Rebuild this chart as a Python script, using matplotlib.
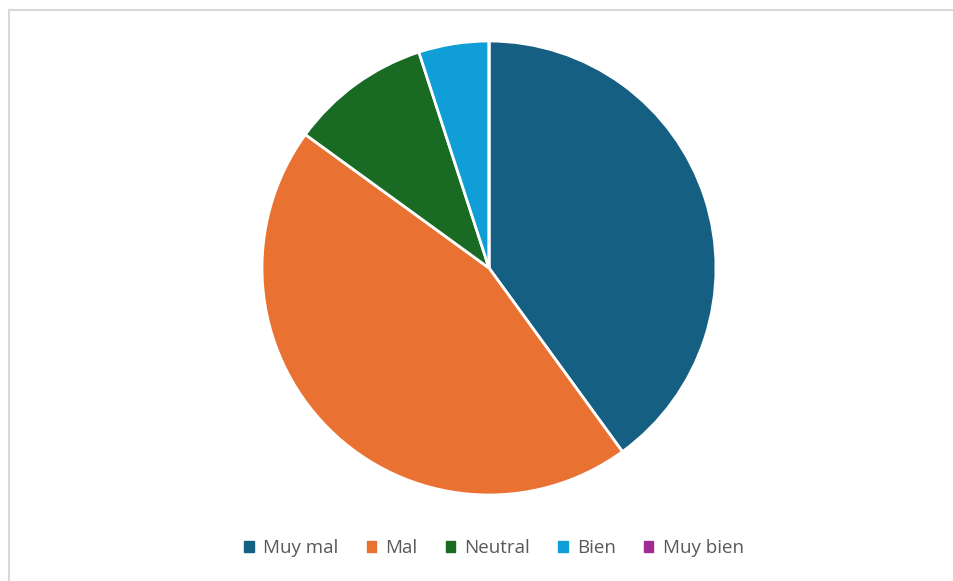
import matplotlib.pyplot as plt
from matplotlib.patches import Patch
from matplotlib.lines import Line2D

labels = ['Muy mal', 'Mal', 'Neutral', 'Bien', 'Muy bien']
values = [40, 45, 10, 5, 0]
colors = ['#156082', '#E97132', '#196B24', '#0F9ED5', '#A02B93']

W, H = 954, 581
fig = plt.figure(figsize=(W / 100, H / 100), dpi=100)

# pie centre and radius in pixels
cx, cy, r = 489, 268, 227
ax = fig.add_axes([(cx - r) / W, (H - cy - r) / H, 2 * r / W, 2 * r / H])
ax.pie(values, colors=colors, startangle=90, counterclock=False,
       wedgeprops=dict(edgecolor='white', linewidth=2))
ax.set_xlim(-1, 1)
ax.set_ylim(-1, 1)
ax.set_aspect('auto')
ax.axis('off')

# chart frame (cropped at right and bottom)
fig.add_artist(Line2D([9 / W, 9 / W], [0, 1 - 10 / H], color='#d9d9d9', lw=1.5))
fig.add_artist(Line2D([9 / W, 1], [1 - 10 / H, 1 - 10 / H], color='#d9d9d9', lw=1.5))

handles = [Patch(facecolor=c, edgecolor=c, label=l) for l, c in zip(labels, colors)]
leg = fig.legend(handles=handles, loc='center', bbox_to_anchor=(494 / W, 1 - 548 / H),
                 ncol=5, frameon=False, handlelength=0.5, handleheight=0.5,
                 handletextpad=0.5, columnspacing=1.5,
                 prop={'family': 'Open Sans', 'size': 13.5})
for t in leg.get_texts():
    t.set_color('#595959')

fig.savefig('out.png', dpi=100, facecolor='white')
